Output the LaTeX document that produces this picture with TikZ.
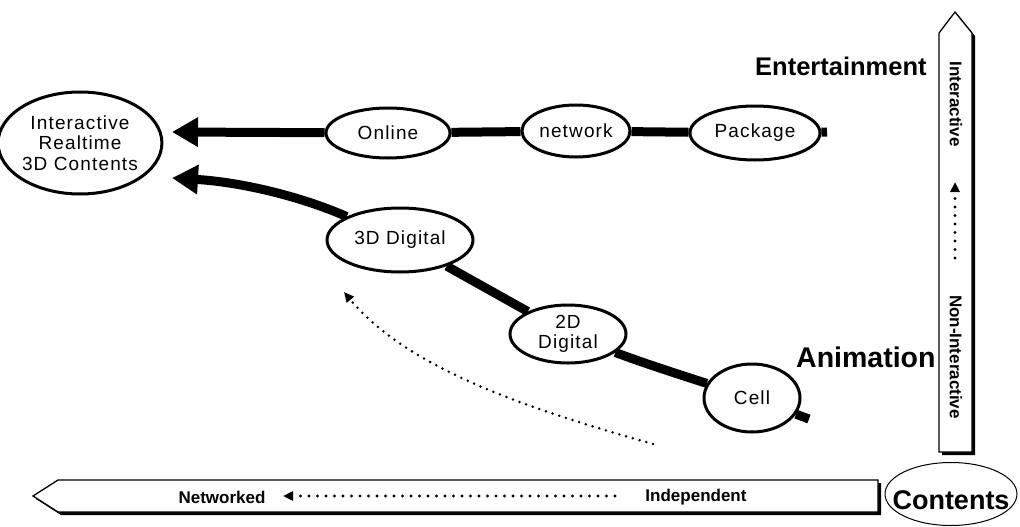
\documentclass[tikz,border=0pt]{standalone}
\usepackage{fontspec}
\setmainfont{Liberation Sans}
\newfontfamily\spacedsans[LetterSpace=6]{Liberation Sans}
\usetikzlibrary{shapes.geometric,arrows.meta}
\pgfdeclarelayer{background}
\pgfsetlayers{background,main}
\begin{document}
\begin{tikzpicture}[x=1pt,y=-1pt,
  bubble/.style={ellipse, draw, line width=3pt, fill=white, inner sep=0pt,
    align=center, font=\spacedsans\fontsize{19}{20.5}\selectfont},
  thickline/.style={line width=9pt},
  bigtip/.style={-{Triangle[length=26pt,width=28pt]}},
  dotline/.style={line width=3.4pt, line cap=round, dash pattern=on 0pt off 8.5pt,
    -{Triangle[length=10pt,width=9pt]}},
  barshape/.style={draw, line width=1.3pt, fill=white},
  bartext/.style={font=\bfseries\fontsize{17}{20}\selectfont, inner sep=0pt},
  heading/.style={font=\bfseries, inner sep=0pt, anchor=base west}
]
\useasboundingbox (0,0) rectangle (1020,527);

% ---- vertical axis bar (Interactive / Non-Interactive) ----
\fill[black] (942,36) -- (958,15) -- (975,36) -- (975,455) -- (942,455) -- cycle;
\path[barshape] (939,33) -- (955,12) -- (972,33) -- (972,452) -- (939,452) -- cycle;
\node[bartext, rotate=-90] (vint) at (956,104) {Interactive};
\node[bartext, rotate=-90] (vnon) at (956,357) {Non-Interactive};
\coordinate (vfrom) at (955,258);
\coordinate (vto) at (955,182);
\draw[dotline] (vfrom) -- (vto);

% ---- horizontal axis bar (Networked / Independent) ----
\fill[black] (36,499) -- (61,483) -- (881,483) -- (881,515) -- (61,515) -- cycle;
\path[barshape] (33,496) -- (58,480) -- (878,480) -- (878,512) -- (58,512) -- cycle;
\node[bartext] (hnet) at (222,497) {Networked};
\node[bartext] (hind) at (696,497) {Independent};
\coordinate (hfrom) at (615,496);
\coordinate (hto) at (283,496);
\draw[dotline] (hfrom) -- (hto);

% ---- corner label ----
\node[ellipse, draw, line width=1pt, minimum width=132pt, minimum height=63pt,
  inner sep=0pt] (contents) at (951,494) {};
\node[font=\bfseries\fontsize{27}{30}\selectfont, inner sep=0pt, anchor=base]
  (contentslbl) at (951,509) {Contents};

% ---- headings ----
\node[heading, font=\bfseries\fontsize{25.5}{28}\selectfont] (ent) at (755,75) {Entertainment};
\node[heading, font=\bfseries\fontsize{28.5}{32}\selectfont] (ani) at (796,367) {Animation};

% ---- bubbles ----
\node[bubble, minimum width=154pt, minimum height=102pt] (ia) at (80,143)
  {Interactive\\Realtime\\3D Contents};
\node[bubble, minimum width=124pt, minimum height=50pt] (online) at (388,133) {Online};
\node[bubble, minimum width=108pt, minimum height=52pt] (network) at (576,131) {network};
\node[bubble, minimum width=130pt, minimum height=54pt] (package) at (755,133) {Package};
\node[bubble, minimum width=146pt, minimum height=64pt] (d3) at (400,240) {3D Digital};
\node[bubble, minimum width=116pt, minimum height=58pt] (d2) at (568,334)
  {\fontsize{19}{22}\selectfont 2D\\Digital};
\node[bubble, minimum width=96pt, minimum height=68pt] (cell) at (752,398) {Cell};

% ---- connectors ----
\coordinate (tipA) at (172,132);
\coordinate (tailA) at (827,132);
\coordinate (tipB) at (172,178);
\coordinate (tailB) at (809,419);
\coordinate (sweepfrom) at (653,444);
\coordinate (sweepto) at (344,292);
\begin{pgfonlayer}{background}
  \draw[thickline] (package) -- (tailA);
  \draw[thickline] (package) -- (network);
  \draw[thickline] (network) -- (online);
  \draw[thickline, bigtip] (online) -- (tipA);
  \draw[thickline] (cell) -- (tailB);
  \draw[thickline] (cell) .. controls (690,378) and (640,362) .. (d2);
  \draw[thickline] (d2) -- (d3);
  \draw[thickline, bigtip] (d3) .. controls (300,196) and (240,182) .. (tipB);
\end{pgfonlayer}
\draw[dotline, line width=2.8pt, dash pattern=on 0pt off 7pt]
  (sweepfrom) .. controls (540,412) and (410,372) .. (sweepto);
\end{tikzpicture}
\end{document}
